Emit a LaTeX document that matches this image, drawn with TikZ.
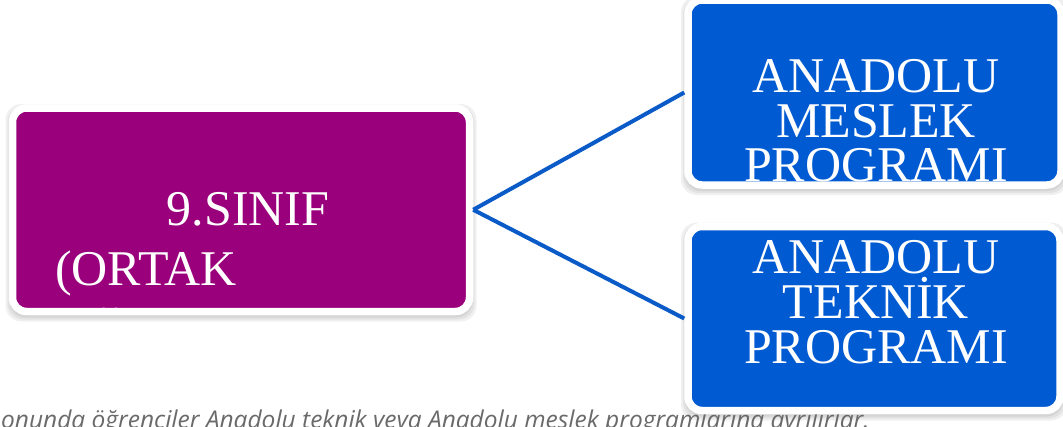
\documentclass[tikz,border=0pt]{standalone}
\usepackage{fontspec}
\setmainfont{Liberation Serif}
\newfontfamily\capfont{Open Sans}
\definecolor{purp}{HTML}{9A007C}
\definecolor{blu}{HTML}{005BD3}
\definecolor{linec}{HTML}{0A5BC8}
\definecolor{capgray}{HTML}{6A6A6A}
\begin{document}
\begin{tikzpicture}[x=1pt,y=-1pt,
  boxshape/.style={rectangle, rounded corners=14pt, draw=white, line width=7.5pt, inner sep=0pt},
  shadowlayer/.style={fill=black, fill opacity=0.06, rounded corners=16pt, draw=none},
  boxtext/.style={text=white, font=\fontsize{50}{44}\selectfont, inner sep=0pt},
  conn/.style={draw=linec, line width=4pt}]
\useasboundingbox (0,0) rectangle (1063,426);
\begin{scope}
\clip (0,0) rectangle (1063,426);
% shadows
\foreach \d in {1,3,5,7}{
  \fill[shadowlayer] (12.5-\d,108-\d+3) rectangle (469.5+\d,311.5+\d+3);
  \fill[shadowlayer] (688-\d,0-\d+3) rectangle (1061+\d,185+\d+3);
  \fill[shadowlayer] (688-\d,226.5-\d+3) rectangle (1060+\d,410.5+\d+3);
}
% caption
\node[anchor=base west, inner sep=0pt, text=capgray, font=\capfont\itshape\fontsize{24.5}{24.5}\selectfont] (cap) at (1,428) {onunda öğrenciler Anadolu teknik veya Anadolu meslek programlarına ayrılırlar.};
% boxes
\node[boxshape, fill=purp, minimum width=457pt, minimum height=203.5pt] (sinif) at (241,209.75) {};
\node[boxshape, fill=blu, minimum width=373pt, minimum height=185pt] (meslek) at (874.5,92.5) {};
\node[boxshape, fill=blu, minimum width=372pt, minimum height=184pt] (teknik) at (874,318.5) {};
% texts clipped to inner areas
\begin{scope}
\clip (17,112) rectangle (465,308);
\node[boxtext, anchor=base] (t1) at (248,225) {9.SINIF};
\node[boxtext, anchor=base west] (t2) at (55,285) {(ORTAK};
\node[boxtext, anchor=base west] (t3) at (55,350) {ÖĞRETİM)};
\end{scope}
\begin{scope}
\clip (692,4) rectangle (1058,181);
\node[boxtext, anchor=base] (m1) at (876,92) {ANADOLU};
\node[boxtext, anchor=base] (m2) at (876,137) {MESLEK};
\node[boxtext, anchor=base] (m3) at (876,181) {PROGRAMI};
\end{scope}
\begin{scope}
\clip (692,230) rectangle (1057,407);
\node[boxtext, anchor=base] (k1) at (876,273) {ANADOLU};
\node[boxtext, anchor=base] (k2) at (876,318) {TEKNİK};
\node[boxtext, anchor=base] (k3) at (876,363) {PROGRAMI};
\end{scope}
% connectors
\draw[conn] (sinif.east) -- (meslek.west);
\draw[conn] (sinif.east) -- (teknik.west);
\end{scope}
\end{tikzpicture}
\end{document}
